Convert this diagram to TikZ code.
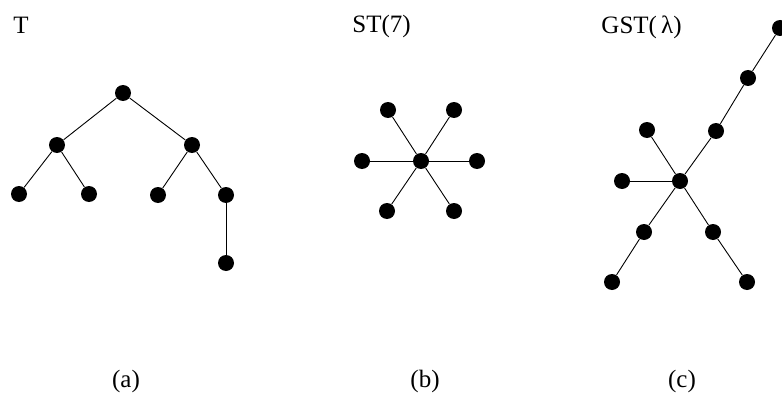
\documentclass[tikz,border=0pt]{standalone}
\usepackage{fontspec}
\setmainfont{Liberation Serif}

\begin{document}
\begin{tikzpicture}[x=1pt,y=-1pt,line width=0.9pt,
  vtx/.style={circle,fill,inner sep=0pt,minimum size=16pt},
  lbl/.style={font=\fontsize{25}{30}\selectfont,inner sep=0pt}]
\useasboundingbox (0,0) rectangle (782,396);

% (a) the tree T
\node[lbl,anchor=base west] (tname) at (13,34) {T};
\node[vtx] (t0) at (123,93) {};
\node[vtx] (t1) at (57,145) {};
\node[vtx] (t2) at (192,145) {};
\node[vtx] (t3) at (19,194) {};
\node[vtx] (t4) at (89,194) {};
\node[vtx] (t5) at (158,195) {};
\node[vtx] (t6) at (226,195) {};
\node[vtx] (t7) at (226,263) {};
\draw (t0) -- (t1);
\draw (t0) -- (t2);
\draw (t1) -- (t3);
\draw (t1) -- (t4);
\draw (t2) -- (t5);
\draw (t2) -- (t6);
\draw (t6) -- (t7);
\node[lbl,anchor=base] (capa) at (126,387) {(a)};

% (b) the star ST(7)
\node[lbl,anchor=base west] (sname) at (352,33) {ST(7)};
\node[vtx] (s0) at (421,161) {};
\node[vtx] (s1) at (388,110) {};
\node[vtx] (s2) at (454,110) {};
\node[vtx] (s3) at (362,161) {};
\node[vtx] (s4) at (477,161) {};
\node[vtx] (s5) at (387,211) {};
\node[vtx] (s6) at (454,211) {};
\foreach \i in {1,...,6}
  \draw (s0) -- (s\i);
\node[lbl,anchor=base] (capb) at (425,387) {(b)};

% (c) the generalised star GST(lambda)
\node[lbl,anchor=base west] (gname) at (601,34) {GST(\,λ)};
\node[vtx] (g0) at (680,181) {};
\node[vtx] (g1) at (622,181) {};
\node[vtx] (g2) at (647,130) {};
\node[vtx] (g3) at (716,131) {};
\node[vtx] (g4) at (748,78) {};
\node[vtx] (g5) at (780,28) {};
\node[vtx] (g6) at (644,232) {};
\node[vtx] (g7) at (612,282) {};
\node[vtx] (g8) at (713,232) {};
\node[vtx] (g9) at (747,282) {};
\draw (g0) -- (g1);
\draw (g0) -- (g2);
\draw (g0) -- (g3) -- (g4) -- (g5);
\draw (g0) -- (g6) -- (g7);
\draw (g0) -- (g8) -- (g9);
\node[lbl,anchor=base] (capc) at (682,387) {(c)};
\end{tikzpicture}
\end{document}
